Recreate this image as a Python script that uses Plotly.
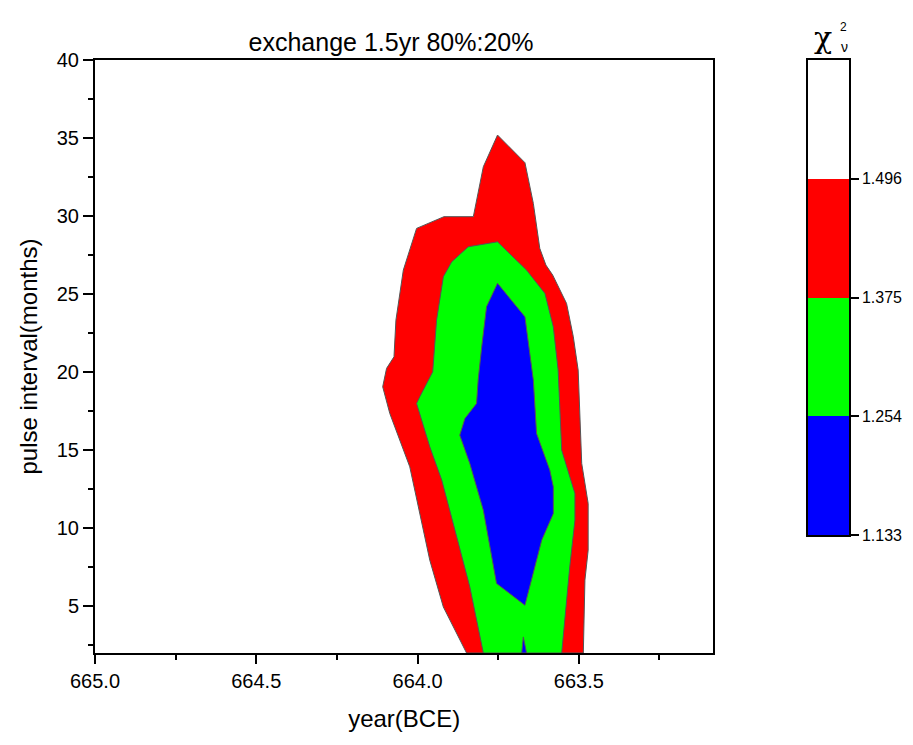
import plotly.graph_objects as go

# ---- data ----
red_x = [663.848, 663.920, 663.962, 663.993, 664.024, 664.086, 664.108, 664.096, 664.073, 664.067,
         664.044, 664.003, 663.918, 663.827, 663.796, 663.752, 663.667, 663.641, 663.621, 663.602,
         663.581, 663.538, 663.517, 663.502, 663.491, 663.471, 663.471, 663.481, 663.486]
red_y = [2.0, 4.95, 7.95, 10.94, 13.93, 17.35, 19.06, 20.24, 20.98, 23.33,
         26.54, 29.21, 29.96, 29.96, 33.16, 35.19, 33.42, 30.81, 27.93, 26.86,
         26.22, 24.4, 22.26, 20.13, 14.15, 11.58, 8.59, 6.67, 2.0]

green_x = [663.796, 663.838, 663.884, 663.925, 663.962, 664.003, 663.993, 663.953, 663.941, 663.920,
           663.894, 663.843, 663.752, 663.662, 663.605, 663.579, 663.564, 663.553, 663.512, 663.512,
           663.528, 663.553]
green_y = [2.0, 6.24, 9.87, 13.08, 15.21, 17.99, 18.42, 20.02, 23.33, 26.11,
           27.07, 28.03, 28.35, 26.54, 25.04, 22.9, 20.13, 15.0, 12.22, 10.51,
           7.52, 2.0]

blue_x = [663.667, 663.755, 663.796, 663.838, 663.869, 663.853, 663.817, 663.812, 663.801, 663.786,
          663.752, 663.667, 663.652, 663.641, 663.631, 663.590, 663.579, 663.579, 663.615]
blue_y = [5.06, 6.46, 11.15, 14.15, 15.96, 17.03, 17.99, 19.49, 21.62, 24.19,
          25.69, 23.54, 21.2, 19.49, 16.07, 13.72, 12.65, 10.94, 9.23]

blue2_x = [663.677, 663.672, 663.662]
blue2_y = [2.0, 3.03, 2.0]

levels = [1.133, 1.254, 1.375, 1.496, 1.617]
level_colors = ["#0000ff", "#00ff00", "#ff0000", "#ffffff"]
tick_levels = ["1.133", "1.254", "1.375", "1.496"]

x_ticks = [665.0, 664.5, 664.0, 663.5]
y_ticks = [5, 10, 15, 20, 25, 30, 35, 40]

FONT = "Liberation Sans"
EDGE = "#555555"

fig = go.Figure()

for xs, ys, col in [(red_x, red_y, "#ff0000"), (green_x, green_y, "#00ff00"),
                    (blue_x, blue_y, "#0000ff"), (blue2_x, blue2_y, "#0000ff")]:
    fig.add_trace(go.Scatter(x=xs + xs[:1], y=ys + ys[:1], mode="lines", fill="toself",
                             fillcolor=col, line=dict(color=EDGE, width=1),
                             hoverinfo="skip", showlegend=False, xaxis="x", yaxis="y"))

# colour bar as stacked bars on a second axis pair
for i, col in enumerate(level_colors):
    fig.add_trace(go.Bar(x=["cb"], y=[levels[i + 1] - levels[i]], base=[levels[i]],
                         marker=dict(color=col, line=dict(width=0)), width=1,
                         showlegend=False, hoverinfo="skip", xaxis="x2", yaxis="y2"))

W, H = 913, 745
L, R, T, B = 95, 913 - 849, 60, 745 - 652.7
pw = W - L - R
ph = H - T - B
main_right = (713.3 - L) / pw
cb_left = (808 - L) / pw
cb_bottom = (652.7 - 535) / ph


def px_x(p):
    return (p - L) / pw


def px_y(p):
    return (H - B - p) / ph


fig.update_layout(
    width=W, height=H,
    margin=dict(l=L, r=R, t=T, b=B, pad=0),
    paper_bgcolor="white", plot_bgcolor="white",
    font=dict(family=FONT, color="black"),
    barmode="overlay", bargap=0,
    title=dict(text="exchange 1.5yr 80%:20%", x=391 / W, xref="container",
               xanchor="center", y=1 - 42 / H, yanchor="middle",
               font=dict(size=25, family=FONT, color="black")),
    xaxis=dict(domain=[0, main_right], range=[665, 663.083], tickvals=x_ticks,
               tickformat=".1f", ticks="outside", ticklen=9, tickwidth=2, tickcolor="black",
               minor=dict(dtick=0.25, tick0=665, ticks="outside", ticklen=5, tickwidth=2, tickcolor="black"),
               showline=True, linecolor="black", linewidth=2, mirror=True, showgrid=False, zeroline=False,
               tickfont=dict(size=20, family=FONT),
               title=dict(text="year(BCE)", font=dict(size=24, family=FONT), standoff=19)),
    yaxis=dict(domain=[0, 1], range=[2, 40], tickvals=y_ticks, ticks="outside", ticklen=10,
               tickwidth=2, tickcolor="black",
               minor=dict(dtick=2.5, tick0=0, ticks="outside", ticklen=5, tickwidth=2, tickcolor="black"),
               showline=True, linecolor="black", linewidth=2, mirror=True, showgrid=False, zeroline=False,
               tickfont=dict(size=20, family=FONT),
               title=dict(text="pulse interval(months)", font=dict(size=24, family=FONT), standoff=12)),
    xaxis2=dict(domain=[cb_left, 1], range=[-0.5, 0.5], anchor="y2", showticklabels=False,
                ticks="", showline=True, linecolor="black", linewidth=1.5, mirror=True,
                showgrid=False, zeroline=False, fixedrange=True),
    yaxis2=dict(domain=[cb_bottom, 1], range=[levels[0], levels[-1]], anchor="x2", side="right",
                tickvals=levels[:4], ticktext=tick_levels, ticks="outside", ticklen=8,
                tickwidth=1.5, tickcolor="black", showline=True, linecolor="black", linewidth=1.5,
                mirror=True, showgrid=False, zeroline=False, tickfont=dict(size=16, family=FONT)),
)

# chi-squared label above the colour bar
fig.add_annotation(text="χ", x=px_x(823), y=px_y(38), xref="paper", yref="paper",
                   xanchor="center", yanchor="middle", showarrow=False,
                   font=dict(size=30, family="DejaVu Serif"))
fig.add_annotation(text="2", x=px_x(843), y=px_y(27), xref="paper", yref="paper",
                   xanchor="center", yanchor="middle", showarrow=False,
                   font=dict(size=12, family=FONT))
fig.add_annotation(text="ν", x=px_x(844), y=px_y(47), xref="paper", yref="paper",
                   xanchor="center", yanchor="middle", showarrow=False,
                   font=dict(size=14, family=FONT))

fig.write_html("out.html")
